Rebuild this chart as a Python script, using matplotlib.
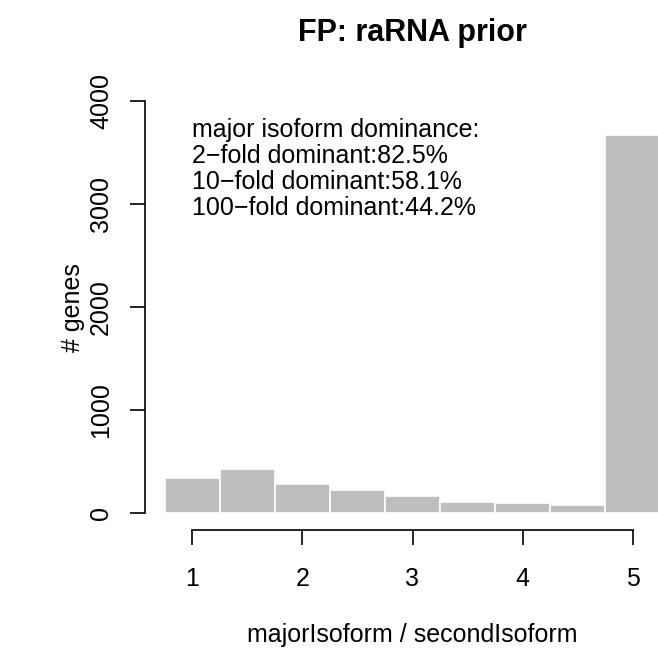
import matplotlib
matplotlib.use("Agg")
import matplotlib.pyplot as plt

plt.rcParams["font.family"] = ["Liberation Sans", "DejaVu Sans"]

# Histogram bins (left edges) and gene counts
BIN_LEFT = [0.75, 1.25, 1.75, 2.25, 2.75, 3.25, 3.75, 4.25, 4.75]
BIN_WIDTH = 0.5
COUNTS = [345, 429, 284, 223, 171, 116, 97, 87, 3670]

X_TICKS = [1, 2, 3, 4, 5]
Y_TICKS = [0, 1000, 2000, 3000, 4000]

ANNOTATION = [
    "major isoform dominance:",
    "2\u2212fold dominant:82.5%",
    "10\u2212fold dominant:58.1%",
    "100\u2212fold dominant:44.2%",
]

W, H = 658, 652
fig = plt.figure(figsize=(W / 100, H / 100), dpi=100)

# plot region in pixels (R style, region runs past right edge)
left_px, right_px = 145, 680
top_px, bottom_px = 84.2, 530
ax = fig.add_axes([
    left_px / W,
    1 - bottom_px / H,
    (right_px - left_px) / W,
    (bottom_px - top_px) / H,
])

ax.bar(BIN_LEFT, COUNTS, width=BIN_WIDTH, align="edge",
       color="#BEBEBE", edgecolor="white", linewidth=1.2)

ax.set_xlim(0.57, 5.43)
ax.set_ylim(-160, 4160)

for side in ["top", "right"]:
    ax.spines[side].set_visible(False)
ax.spines["bottom"].set_bounds(1, 5)
ax.spines["left"].set_bounds(0, 4000)
for side in ["bottom", "left"]:
    ax.spines[side].set_linewidth(1.2)

ax.set_xticks(X_TICKS)
ax.set_yticks(Y_TICKS)
ax.set_yticklabels([str(v) for v in Y_TICKS], rotation=90, va="center")
ax.tick_params(axis="both", length=11, width=1.2, labelsize=18)
ax.tick_params(axis="x", pad=16)
ax.tick_params(axis="y", pad=12)

ax.set_xlabel("majorIsoform / secondIsoform", fontsize=18, labelpad=23)
ax.set_ylabel("# genes", fontsize=18, labelpad=3)
ax.set_title("FP: raRNA prior", fontsize=22, fontweight="bold", pad=31)

ax.text(1.0, 3830, "\n".join(ANNOTATION), fontsize=18,
        ha="left", va="top", linespacing=1.10)

fig.savefig("out.png", dpi=100)
